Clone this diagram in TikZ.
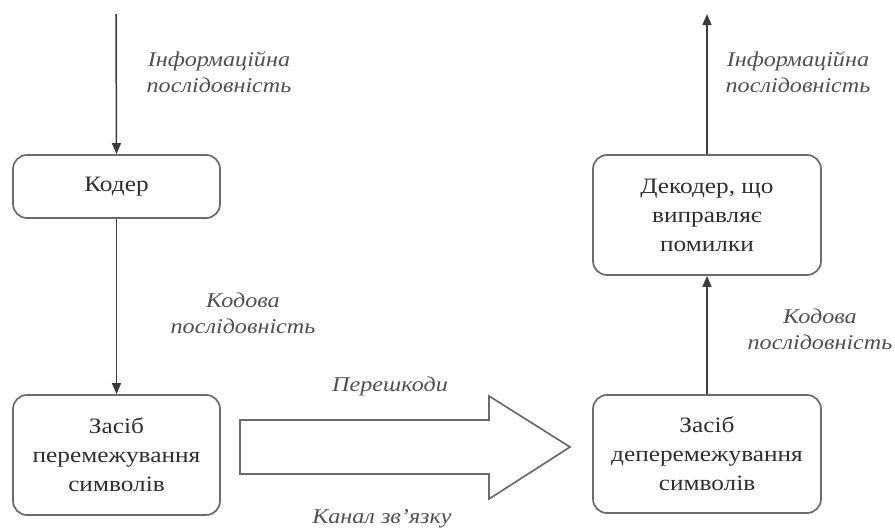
\documentclass[tikz,border=0pt]{standalone}
\usepackage{fontspec}
\setmainfont{Liberation Serif}[FakeStretch=1.15]
\usetikzlibrary{arrows.meta}
\definecolor{ln}{HTML}{3C3C3C}
\definecolor{bx}{HTML}{6A6A6A}
\definecolor{tx}{HTML}{2E2E2E}
\definecolor{lt}{HTML}{505050}
\begin{document}
\begin{tikzpicture}[x=1pt,y=-1pt,
  blk/.style={draw=bx,line width=1.7pt,rounded corners=14pt,fill=white,text=tx,align=center,
    font=\fontsize{22}{29}\selectfont,inner sep=0pt},
  lbl/.style={text=lt,align=center,font=\fontsize{21}{26}\itshape\selectfont,inner sep=0pt},
  conn/.style={draw=ln,line width=1.5pt,-{Triangle[length=11pt,width=9pt]}}]
\useasboundingbox (0,0) rectangle (895,530);
% left column
\coordinate (inL) at (116,14);
\node[blk,minimum width=207pt,minimum height=63pt] (kod) at (116.5,186.5) {Кодер};
\node[blk,minimum width=207pt,minimum height=120pt] (zl) at (116.5,455) {Засіб\\перемежування\\символів};
\draw[conn] (inL) -- (kod.north);
\draw[conn] (kod.south) -- (zl.north);
\node[lbl] (l1) at (219,72) {Інформаційна\\послідовність};
\node[lbl] (l2) at (243,313) {Кодова\\послідовність};
% right column
\node[blk,minimum width=228pt,minimum height=120pt] (dec) at (707,215) {Декодер, що\\виправляє\\помилки};
\node[blk,minimum width=228pt,minimum height=118pt] (zr) at (707,454) {Засіб\\деперемежування\\символів};
\coordinate (outR) at (707,14);
\draw[conn] (zr.north) -- (dec.south);
\draw[conn] (dec.north) -- (outR);
\node[lbl] (l3) at (798,72) {Інформаційна\\послідовність};
\node[lbl] (l4) at (820,329) {Кодова\\послідовність};
% channel arrow
\draw[draw=bx,line width=1.7pt,fill=white,line join=miter]
  (240,420) -- (489,420) -- (489,396) -- (570,447) -- (489,499) -- (489,474) -- (240,474) -- cycle;
\node[lbl] (p) at (390,386) {Перешкоди};
\node[lbl] (k) at (382,519) {Канал зв'язку};
\end{tikzpicture}
\end{document}
